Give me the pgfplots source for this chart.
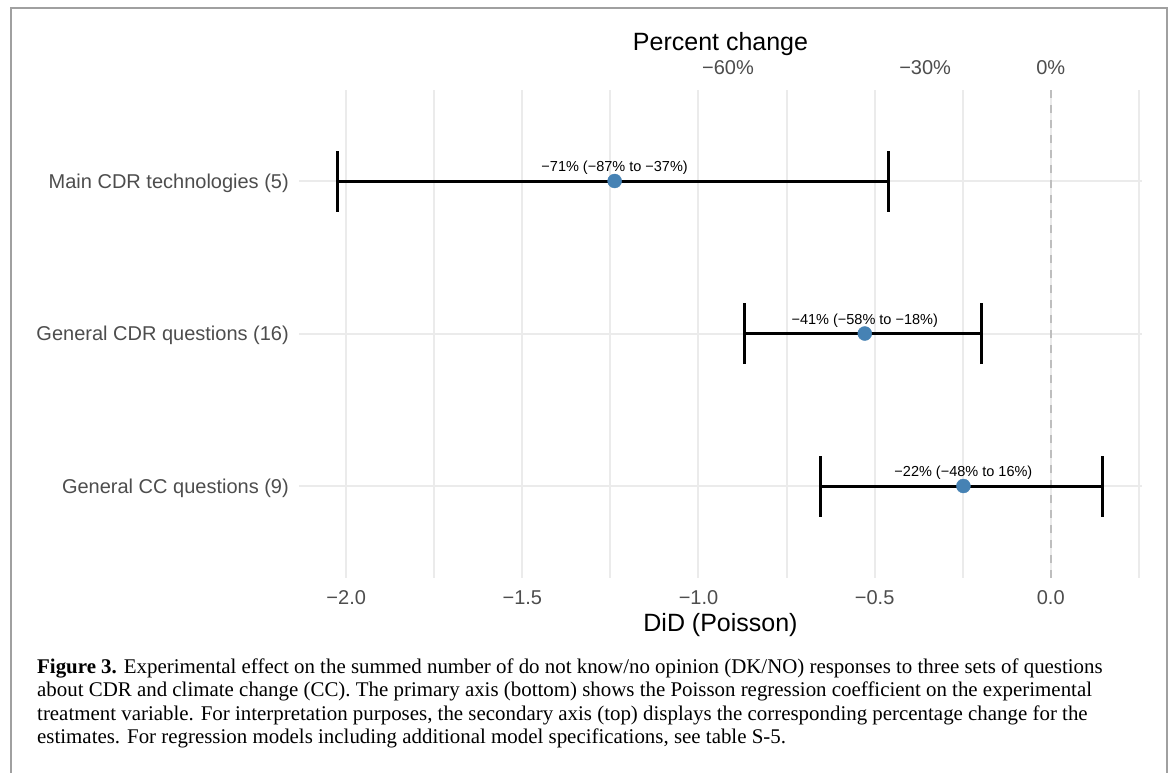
\documentclass[border=0pt]{standalone}
\usepackage{fontspec}
\setmainfont{Liberation Sans}
\newfontfamily\capfont{Liberation Serif}
\usepackage{graphicx}
\usepackage{pgfplots}
\pgfplotsset{compat=1.18}
\definecolor{gridc}{HTML}{EBEBEB}
\definecolor{tickc}{HTML}{4D4D4D}
\definecolor{ptc}{HTML}{4682B4}
\definecolor{zeroc}{HTML}{BEBEBE}
\definecolor{framec}{HTML}{A0A0A0}
\begin{document}
\begin{tikzpicture}[x=1bp,y=1bp]
\useasboundingbox (0,0) rectangle (1173,-773);
\fill[white] (0,0) rectangle (1173,-773);
\draw[framec, line width=1.2bp] (11,-773) -- (11,-8) -- (1167,-8) -- (1167,-773);
% main axis
\begin{axis}[
  at={(299bp,-577.5bp)}, anchor=south west,
  scale only axis, width=843bp, height=488bp,
  xmin=-2.134, xmax=0.259, ymin=0.4, ymax=3.6,
  axis line style={draw=none},
  major tick length=0pt, minor tick length=0pt,
  xtick={-2,-1.5,-1,-0.5,0},
  xticklabels={−2.0,−1.5,−1.0,−0.5,0.0},
  minor xtick={-1.75,-1.25,-0.75,-0.25,0.25},
  ytick={1,2,3},
  yticklabels={General CC questions (9),General CDR questions (16),Main CDR technologies (5)},
  grid=both,
  major grid style={gridc, line width=2bp},
  minor grid style={gridc, line width=2bp},
  xticklabel style={anchor=base, yshift=-26.8bp, inner sep=0pt, font=\fontsize{20bp}{24bp}\selectfont, text=tickc},
  yticklabel style={anchor=base east, xshift=-10bp, yshift=-7.2bp, inner sep=0pt, font=\fontsize{20bp}{24bp}\selectfont, text=tickc},
  xlabel={DiD (Poisson)},
  xlabel style={at={(axis description cs:0.5,0)}, anchor=base, yshift=-53.5bp, inner sep=0pt, font=\fontsize{25bp}{30bp}\selectfont, text=black},
  clip=false,
]
\addplot[zeroc, line width=2bp, dash pattern=on 8bp off 7bp] coordinates {(0,0.4) (0,3.6)};
% whiskers
\addplot[black, line width=3bp] coordinates {(-2.025,3) (-0.462,3)};
\addplot[black, line width=3bp] coordinates {(-2.025,2.8) (-2.025,3.2)};
\addplot[black, line width=3bp] coordinates {(-0.462,2.8) (-0.462,3.2)};
\addplot[black, line width=3bp] coordinates {(-0.868,2) (-0.198,2)};
\addplot[black, line width=3bp] coordinates {(-0.868,1.8) (-0.868,2.2)};
\addplot[black, line width=3bp] coordinates {(-0.198,1.8) (-0.198,2.2)};
\addplot[black, line width=3bp] coordinates {(-0.654,1) (0.148,1)};
\addplot[black, line width=3bp] coordinates {(-0.654,0.8) (-0.654,1.2)};
\addplot[black, line width=3bp] coordinates {(0.148,0.8) (0.148,1.2)};
% points with labels
\addplot[only marks, mark=*, mark size=7bp, ptc, mark options={draw=ptc, fill=ptc},
  point meta=explicit symbolic, nodes near coords,
  every node near coord/.append style={anchor=base, yshift=9.3bp, inner sep=0pt, text=black, font=\fontsize{14.5bp}{17bp}\selectfont}]
  coordinates {
    (-1.238,3) [−71\% (−87\% to −37\%)]
    (-0.528,2) [−41\% (−58\% to −18\%)]
    (-0.248,1) [−22\% (−48\% to 16\%)]
  };
\end{axis}
% top axis (percent change)
\begin{axis}[
  at={(299bp,-577.5bp)}, anchor=south west,
  scale only axis, width=843bp, height=488bp,
  xmin=-2.134, xmax=0.259, ymin=0.4, ymax=3.6,
  axis x line*=top, axis y line=none,
  axis line style={draw=none},
  major tick length=0pt,
  xtick={-0.916291,-0.356675,0},
  xticklabels={−60\%,−30\%,0\%},
  ytick=\empty,
  xticklabel style={anchor=base, yshift=15.2bp, inner sep=0pt, font=\fontsize{20bp}{24bp}\selectfont, text=tickc},
  xlabel={Percent change},
  xlabel style={at={(axis description cs:0.5,1)}, anchor=base, yshift=38.8bp, inner sep=0pt, font=\fontsize{25bp}{30bp}\selectfont, text=black},
]
\addplot[draw=none] coordinates {(0,1)};
\end{axis}
% caption
\begin{scope}[every node/.style={anchor=base west, inner sep=0pt, font=\capfont\fontsize{20.9bp}{23.5bp}\selectfont}]
\node at (37,-673) {\textbf{Figure 3.} Experimental effect on the summed number of do not know/no opinion (DK/NO) responses to three sets of questions};
\node at (37,-696.5) {about CDR and climate change (CC). The primary axis (bottom) shows the Poisson regression coefficient on the experimental};
\node at (37,-720) {treatment variable. For interpretation purposes, the secondary axis (top) displays the corresponding percentage change for the};
\node at (37,-743.5) {estimates. For regression models including additional model specifications, see table S-5.};
\end{scope}
\end{tikzpicture}
\end{document}
